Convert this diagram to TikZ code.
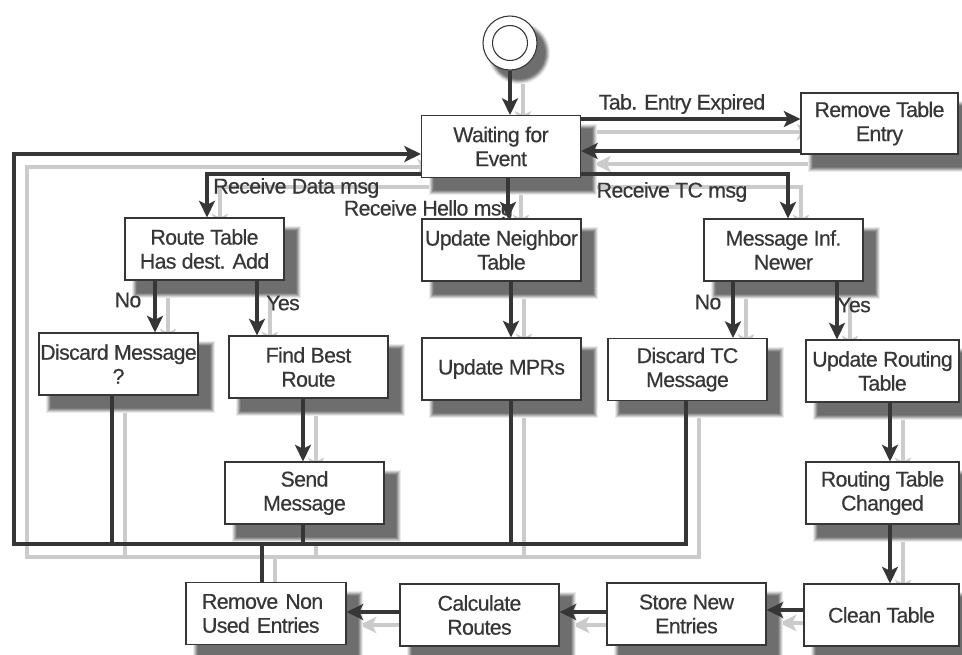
\documentclass[tikz,border=0pt]{standalone}
\usepackage{fontspec}
\setmainfont{Liberation Sans}[LetterSpace=-3,FakeBold=0.4]
\usetikzlibrary{arrows.meta}
\definecolor{ink}{HTML}{363636}
\definecolor{lineshade}{HTML}{CBCBCB}
\pgfdeclarelayer{paper}
\pgfdeclarelayer{shade}
\pgfdeclarelayer{boxshade}
\pgfsetlayers{paper,shade,boxshade,main}
% a connector together with its light offset shadow
\newcommand\link[2]{%
  \begin{pgfonlayer}{shade}\draw[#1,lineshadow] #2;\end{pgfonlayer}
  \draw[#1] #2;}
% soft drop shadow under a box, built from graded grey rectangles
\newcommand\castshadow[1]{%
  \begin{pgfonlayer}{boxshade}
  \foreach \o/\c in {4/8,3/18,2/30,1/42,0/52,-1/57}
    \fill[black!\c] ([shift={(12-\o,13-\o)}]#1.north west)
      rectangle ([shift={(12+\o,13+\o)}]#1.south east);
  \end{pgfonlayer}}
\tikzset{
  x=0.75pt, y=-0.75pt,
  txt/.style={text=ink, font=\fontsize{16pt}{18pt}\selectfont},
  box/.style={txt, draw=ink, line width=0.8pt, fill=white, align=center,
    inner sep=0pt, minimum width=119.25pt, minimum height=46.5pt},
  lbl/.style={txt, inner sep=0pt},
  flow/.style={draw=ink, line width=2.3pt,
    -{Stealth[length=12.5pt,width=12pt,inset=3pt]}},
  wire/.style={draw=ink, line width=2.3pt},
  lineshadow/.style={draw=lineshade, line width=2.8pt, transform canvas={shift={(13,13)}}},
}
\begin{document}
\begin{tikzpicture}
\begin{pgfonlayer}{paper}
\fill[white] (0,0) rectangle (962,654);
\end{pgfonlayer}
\useasboundingbox (0,0) rectangle (962,654);

% initial state
\node[circle, draw=ink, line width=0.8pt, fill=white, minimum size=40.5pt]
  (start) at (510,43) {};
\node[circle, draw=ink, line width=0.8pt, minimum size=26.25pt] (startin) at (start.center) {};
\begin{pgfonlayer}{boxshade}
  \foreach \r/\c in {31/8,30/18,29/30,28/42,27/52,26/57}
    \fill[black!\c] ([shift={(9,10)}]start.center) circle ({\r*0.75pt});
\end{pgfonlayer}

% states
\node[box] (wait) at (501,146.5) {Waiting for\\Event};
\node[box, minimum width=117.75pt, minimum height=45.75pt] (remove) at (879.5,123.5) {Remove Table\\Entry};
\node[box] (route) at (204.5,249) {Route Table\\Has dest. Add};
\node[box] (neigh) at (501.5,250) {Update Neighbor\\Table};
\node[box] (msginf) at (783.5,250) {Message Inf.\\Newer};
\node[box] (discard) at (118.5,364) {Discard Message\\?};
\node[box] (findbest) at (308.5,367) {Find Best\\Route};
\node[box] (mprs) at (501.5,369) {Update MPRs};
\node[box] (discardtc) at (687.5,369.5) {Discard TC\\Message};
\node[box, minimum width=114.75pt] (updrt) at (882.5,371) {Update Routing\\Table};
\node[box] (send) at (304.5,493) {Send\\Message};
\node[box, minimum width=114.75pt] (rtchanged) at (882.5,493) {Routing Table\\Changed};
\node[box, minimum width=116.25pt] (clean) at (881.5,615) {Clean Table};
\node[box] (store) at (686.5,614) {Store New\\Entries};
\node[box] (calc) at (479.5,615) {Calculate\\Routes};
\node[box, minimum width=120pt, align=left, text width=96pt] (removenon) at (266,613.5) {Remove Non\\Used Entries};

\foreach \n in {wait,remove,route,neigh,msginf,discard,findbest,mprs,discardtc,
                updrt,send,rtchanged,clean,store,calc,removenon}
  {\castshadow{\n}}

% corners of the return loop
\coordinate (busR) at (686,544);
\coordinate (busL) at (14,544);
\coordinate (loopT) at (14,154);

% connectors
\link{flow}{(start.south) -- (start.south |- wait.north)}
\link{flow}{(wait.east |- 0,119) -- (remove.west |- 0,119)}
\link{flow}{(remove.west |- 0,151) -- (wait.east |- 0,151)}
\link{flow}{(wait.east |- 0,174) -| (msginf.north -| 788,0)}
\link{flow}{(wait.west |- 0,174) -| (route.north -| 207,0)}
\link{flow}{(wait.south -| 508,0) -- (neigh.north -| 508,0)}
\link{flow}{(route.south -| 155,0) -- (discard.north -| 155,0)}
\link{flow}{(route.south -| 257,0) -- (findbest.north -| 257,0)}
\link{flow}{(neigh.south -| 511,0) -- (mprs.north -| 511,0)}
\link{flow}{(msginf.south -| 733,0) -- (discardtc.north -| 733,0)}
\link{flow}{(msginf.south -| 837,0) -- (updrt.north -| 837,0)}
\link{flow}{(findbest.south -| 303,0) -- (send.north -| 303,0)}
\link{flow}{(updrt.south -| 890,0) -- (rtchanged.north -| 890,0)}
\link{flow}{(rtchanged.south -| 890,0) -- (clean.north -| 890,0)}
\link{flow}{(clean.west |- 0,610) -- (store.east |- 0,610)}
\link{flow}{(store.west |- 0,612) -- (calc.east |- 0,612)}
\link{flow}{(calc.west |- 0,612) -- (removenon.east |- 0,612)}
\link{flow}{(discardtc.south -| 686,0) -- (busR) -- (busL) -- (loopT) -- (wait.west |- loopT)}
\link{wire}{(discard.south -| 112,0) -- (busR -| 112,0)}
\link{wire}{(send.south -| 303,0) -- (busR -| 303,0)}
\link{wire}{(mprs.south -| 511,0) -- (busR -| 511,0)}
\link{wire}{(removenon.north -| 262,0) -- (busR -| 262,0)}

% connector labels
\node[lbl] (ltab) at (682,104) {Tab. Entry Expired};
\node[lbl] (ltc) at (672,192) {Receive TC msg};
\node[lbl, anchor=west] (ldata) at (213,188) {Receive Data msg};
\node[lbl, anchor=east] (lhello) at (513,210) {Receive Hello msg};
\node[lbl] (lno1) at (128,300) {No};
\node[lbl] (lyes1) at (283,303) {Yes};
\node[lbl] (lno2) at (708,302) {No};
\node[lbl] (lyes2) at (854,305) {Yes};
\end{tikzpicture}
\end{document}
